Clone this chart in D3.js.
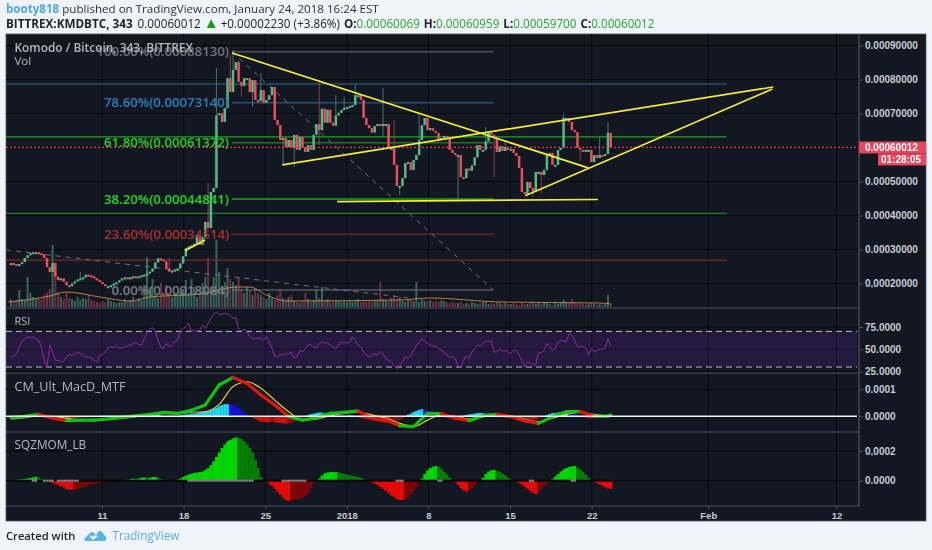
<!DOCTYPE html>
<html lang="en">
<head>
<meta charset="utf-8">
<title>KMDBTC 343</title>
<script src="https://cdnjs.cloudflare.com/ajax/libs/d3/7.8.5/d3.min.js"></script>
<style>
  html, body { margin: 0; padding: 0; background: #f0f3fa; }
  svg { display: block; filter: blur(0.3px); }
  text { font-family: "Open Sans", sans-serif; }
  .axis text { font-family: "Liberation Sans", sans-serif; font-size: 10px; font-weight: bold; fill: #c9ccd3; }
</style>
</head>
<body>
<svg id="chart" width="932" height="550"></svg>
<script>
// all prices in units of 0.00001 BTC, one row = 10 bars of 343 minutes
var closes = [
  26,25.7,25.4,25.7,26.3,27.5,28.3,28.9,29.2,29.2,
  28.9,28.6,27.5,24.8,23.4,26,22,21,21.5,20.5,
  19.5,19.2,20,20.6,21.2,21.5,21.8,22.6,22.4,22.1,
  21.5,21,20.4,19.8,19.2,19.2,19.5,20,20.3,20.9,
  21.5,21.8,21.5,21.8,22.1,21.8,22.1,22.4,22.6,22.9,
  23.5,24.4,26.2,27.4,27.1,26.5,24.4,23.5,23.8,24.1,
  24.4,25.9,28,30.4,30.9,31.2,31.7,34.3,31.4,33.7,
  38.1,36.3,46.9,48.1,69.5,70.1,67.5,71.6,80.4,76.3,
  82.8,85.1,79.3,78.1,80.4,80.4,76.3,79.8,74,73.7,
  76.9,73.1,74,75.4,77.8,68.1,66.6,62.2,62.8,60.1,
  62.2,59.9,63.7,59.3,63.1,60.1,58.7,60.7,59.3,63.7,
  66.9,65.1,71.4,67.3,71.1,67.3,66.4,69.4,70.2,71,
  71.6,71.9,72.2,72.5,75.4,75.4,74,68.7,66.6,65.7,
  64.4,66.3,66.9,66.3,66.9,66.9,59.9,59.9,54.9,48.7,
  48.7,51,55.4,55.7,53.4,56.3,57.8,62.2,66.6,68.7,
  65.1,65.7,64.9,64.3,62.2,62.8,63.4,62.8,59.3,58.4,
  57.8,57.8,51.3,51,53.8,53.2,54.7,57.1,60.7,59.3,
  59.3,61.8,64.3,63.7,63.1,58.7,60.4,59,60.1,59.3,
  59.6,58.4,57.5,54,46.9,46.3,49.9,48.1,46.9,52.8,
  52.8,51.9,53.4,57.8,58.4,54.9,54.9,59.3,59.9,68.7,
  68.7,67.5,65.1,64.5,59.9,59.3,58.7,59.3,59.3,55.7,
  57.8,56.9,57.8,57.5,58.1,64.3,60.012
];
// long wicks only: [bar, price]
var wickHighs = [[25,23.4],[49,27.8],[57,27.5],[71,49.6],[74,83.4],[79,87.2],[80,88.7],[82,85.7],[90,81.9],[111,79.9],[117,75.4],[120,74.9],[124,78.4],[134,77.5],[138,68.1],[147,69.6],[171,66],[178,62.2],[199,70.1],[212,63.1],[215,67.5]];
var wickLows = [[83,75],[87,72],[98,54.9],[102,54.3],[111,60.7],[134,63.1],[140,46],[161,44.6],[174,51.3],[188,45.4],[191,46.5],[205,56]];
var volumes = [
  8,6,7,17,8,7,30,14,10,9,
  9,8,12,14,18,62,35,15,10,8,
  14,9,8,6,10,7,9,8,12,7,
  6,5,4,6,5,8,6,5,4,5,
  5,8,6,7,10,6,9,7,22,49,
  20,28,12,9,24,14,22,12,10,14,
  12,15,18,27,14,28,20,10,16,24,
  30,49,20,30,67,35,18,25,39,28,
  25,22,30,18,14,20,16,12,18,14,
  12,10,8,14,9,7,12,18,9,8,
  10,12,6,5,4,6,14,8,5,7,
  18,9,20,7,8,6,5,7,6,5,
  6,5,7,5,6,8,5,6,5,7,
  5,6,7,25,8,7,6,9,12,8,
  10,6,5,8,7,6,25,5,8,6,
  6,7,5,6,5,7,6,5,4,5,
  4,4,5,3,4,3,5,4,3,4,
  5,6,3,4,3,5,4,3,4,3,
  3,4,3,2,4,3,3,4,5,3,
  4,3,5,4,3,2,4,3,4,7,
  5,4,8,5,3,4,3,2,3,4,
  3,2,3,2,3,12,3
];
var volMaBars = [-1,14,20,32,43,50,68,82,86,92,99,140,151,176,212,216];
var volMa = [5,11,15,10,6,10,13,20,20,12,6,7,9,5,4,3];
var rsi = [
  41.3,42.4,45,52.7,59,62,64,63,63.6,62,
  60.2,52.7,37.5,30,54.5,47,37.5,37.5,35.6,36.4,
  41.3,43.9,43.2,45,47,45,43.2,41.3,41.3,40.2,
  37.5,35.6,43.2,43.9,47,51.5,52.7,51.5,53.8,50.8,
  51.5,52.7,53.8,54.5,56.4,58.3,55.3,54.5,62,67.8,
  72.7,74.2,69.7,60.2,51.5,50.8,56.4,52.7,55.3,58.3,
  60.2,70.5,73.5,75.4,79.2,69.7,71.6,69.7,71.6,77.3,
  73.5,79.2,84.8,89.4,91.7,89.4,89.4,90.5,89.4,87.9,
  84.8,85.6,72.7,70.5,72.7,69.7,64,62,62,62.9,
  62,60.2,64,58.3,50.8,42.4,41.3,43.9,43.2,45,
  45,47,40.2,41.3,48.9,47,50.8,54.5,55.3,52.7,
  50.8,56.4,58.3,56.4,57.6,54.5,52.7,50.8,55.3,57.6,
  57.6,57.2,58.3,64,60.2,54.5,52.7,47,43.2,41.3,
  43.2,45,43.2,47.7,45,39.4,37.5,35.6,31.8,28,
  31.8,35.6,41.3,40.2,43.2,48.9,54.5,58.3,62,58.3,
  56.4,54.5,53.8,52.7,50.8,48.9,47,43.2,41.3,41.3,
  39.4,31.8,29.9,37.5,43.2,39.4,47,50.8,54.5,53.8,
  56.4,59.1,59.1,59.1,47,47,50,47.7,48.9,47,
  45,48.9,48.9,43.2,37.5,29.9,35.6,34.8,32.6,32.6,
  46.2,46.2,48.9,56.4,52.7,48.9,50.8,57.6,60.2,59.1,
  58.3,67.8,65.9,60.2,52.7,52.7,52.7,51.5,43.9,50.8,
  47,48.9,50,50,51.5,62,53.4
];
// macd panel in units of 0.0001, lines sampled every 5 bars
var macdBars = [0,5,10,15,20,25,30,35,40,45,50,55,60,65,70,75,80,85,90,95,100,105,110,115,120,125,130,135,140,145,150,155,160,165,170,175,180,185,190,195,200,205,210,215,216];
var macdLine = [-.05,0,.07,-.07,-.16,-.14,-.14,-.1,-.04,.02,.07,.15,.11,.22,.42,1.16,1.44,1.22,.79,.42,-.01,-.14,-.05,.11,.15,.2,-.07,-.14,-.35,-.38,.11,.09,-.07,-.16,.02,.07,-.01,-.17,-.26,-.01,.17,.17,.01,.01,.05];
var macdSignal = [-.1,-.05,.02,-.01,-.07,-.14,-.14,-.11,-.07,-.01,.05,.1,.09,.15,.17,.44,1.1,1.28,1.04,.6,.17,-.14,-.11,.02,.11,.15,.05,-.07,-.26,-.38,-.14,.05,-.01,-.1,-.01,.05,.01,-.1,-.2,-.07,.07,.15,.07,.01,.01];
var macdHist = [
  0,0,0,0,.01,.02,.03,.04,.05,.06,
  .05,.03,0,-.02,-.04,-.05,-.05,-.05,-.04,-.05,
  -.06,-.07,-.08,-.08,-.07,-.06,-.05,-.03,-.02,-.01,
  0,.01,.01,.02,.02,.02,.02,.02,.02,.02,
  .02,.02,.02,.03,.03,.03,.03,.02,.02,.02,
  .03,.05,.06,.06,.03,.01,-.01,-.02,-.02,-.01,
  0,.03,.05,.07,.08,.1,.1,.12,.14,.16,
  .18,.2,.25,.28,.32,.38,.42,.45,.45,.44,
  .42,.36,.3,.22,.14,.07,.02,-.04,-.1,-.16,
  -.2,-.2,-.22,-.22,-.2,-.22,-.24,-.25,-.26,-.27,
  -.26,-.24,-.2,-.16,-.1,-.06,-.02,.04,.08,.1,
  .12,.14,.14,.12,.12,.1,.1,.08,.06,.05,
  .04,.03,.03,.02,0,-.03,-.06,-.08,-.1,-.12,
  -.14,-.16,-.18,-.2,-.22,-.24,-.24,-.22,-.2,-.16,
  -.12,-.08,0,.06,.1,.16,.2,.24,.26,.25,
  .22,.18,.14,.1,.05,0,-.02,-.05,-.05,-.05,
  -.08,-.06,-.03,.02,.05,.07,.08,.1,.12,.12,
  .12,.1,.1,.08,.06,.04,0,-.03,-.05,-.05,
  -.05,-.03,-.02,-.03,-.05,-.07,-.08,-.1,-.12,-.12,
  -.1,-.06,-.02,.04,.08,.12,.12,.14,.14,.16,
  .16,.14,.12,.1,.06,.02,-.02,-.05,-.07,-.08,
  -.06,-.05,-.03,-.01,.01,.02,.03
];
var squeeze = [
  .02,.04,.06,.08,.1,.12,.15,.18,.22,.27,
  .2,.1,.05,-.02,-.08,-.15,-.22,-.3,-.38,-.45,
  -.57,-.6,-.62,-.6,-.55,-.5,-.42,-.38,-.32,-.25,
  -.2,-.18,-.12,-.08,-.05,-.03,-.02,-.01,0,0,
  .01,.03,.06,.1,.14,.12,.15,.2,.22,.18,
  .2,.24,.25,.2,.12,.06,.03,.01,.02,.03,
  .08,.14,.25,.35,.42,.47,.52,.55,.58,.62,
  .72,.85,1.05,1.3,1.6,1.9,2.2,2.45,2.65,2.75,
  2.85,2.92,2.9,2.8,2.65,2.45,2.2,1.9,1.4,.85,
  .25,.05,-.05,-.2,-.35,-.55,-.75,-.95,-1.15,-1.3,
  -1.37,-1.35,-1.3,-1.25,-1.2,-1.15,-1.05,-.85,-.5,-.15,
  .02,.15,.35,.5,.55,.58,.58,.58,.55,.5,
  .45,.42,.38,.33,.28,.25,.2,.1,.02,-.05,
  -.1,-.2,-.3,-.42,-.55,-.7,-.85,-1,-1.1,-1.25,
  -1.3,-1.3,-1.25,-1.15,-.95,-.7,-.4,-.1,.15,.45,
  .7,.85,.95,1,.95,.8,.6,.42,.2,.03,
  -.1,-.3,-.5,-.65,-.72,-.65,-.5,-.3,-.1,.02,
  .2,.45,.62,.7,.72,.68,.6,.48,.35,.2,
  .1,.02,-.05,-.15,-.28,-.42,-.55,-.7,-.82,-.9,
  -.75,-.55,-.35,-.18,-.02,.1,.28,.45,.62,.75,
  .85,.92,.98,.99,.9,.75,.58,.4,.2,.05,
  -.08,-.16,-.25,-.35,-.45,-.52,-.55
];
var squeezeOn = [[8,9],[12,15],[17,24],[64,87],[98,106],[139,141],[154,155],[187,188],[202,203]];

var priceTicks = [20,30,40,50,60,70,80,90];
var rsiTicks = [25,50,75];
var macdTicks = [0,1];
var sqzTicks = [0,2];
var dateTicks = [["11",new Date(Date.UTC(2017,11,11))],["18",new Date(Date.UTC(2017,11,18))],["25",new Date(Date.UTC(2017,11,25))],["2018",new Date(Date.UTC(2018,0,1))],["8",new Date(Date.UTC(2018,0,8))],["15",new Date(Date.UTC(2018,0,15))],["22",new Date(Date.UTC(2018,0,22))],["Feb",new Date(Date.UTC(2018,1,1))],["12",new Date(Date.UTC(2018,1,12))]];

var fibLabels = ["100.00%(0.00088130)","78.60%(0.00073140)","61.80%(0.00061372)","38.20%(0.00044841)","23.60%(0.00034514)","0.00%(0.00018084)"];
var fibPrices = [88.13,73.14,61.372,44.841,34.514,18.084];
var fibColors = ["#6b6e78","#2c6f9e","#1fa51f","#13a813","#8f2c2c","#73767f"];
var fibText = ["#6f727c","#2f7bb0","#25c925","#25d025","#a32e2e","#7a7d86"];
var fullPrices = [78.7,63.1,40.6,26.9];
var fullColors = ["#24506e","#22a022","#237a23","#7c2b2b"];
// [bar, price, bar, price]
var trendLines = [[79.6,87.8,207.9,54],[97.7,54.9,274.5,77.8],[185.2,45.8,274.2,77.2],[117.5,44.1,211.4,44.7],[62.7,29.6,69.9,32.8]];
var dashedLines = [[79.6,88.13,173.7,18.084],[-1.8,29.9,143.8,15.7]];
var fibRange = [79.6,173.7];
var fullRange = [-1.8,257.7];
var lastPrice = 60.012;

var L = 6, R = 926, axisX = 859, T = 34, B = 521;
var panels = { main: [T, 308], rsi: [308, 373], macd: [373, 432], sqz: [432, 506] };

var svg = d3.select("#chart");
var x = d3.scaleUtc().domain([new Date(Date.UTC(2017,11,11)), new Date(Date.UTC(2018,1,12))]).range([102,836.5]);
var firstBar = Date.UTC(2017,11,3,4,30);
function barX(i) { return x(new Date(firstBar + i * 343 * 60000)); }
var bw = barX(1) - barX(0);

var yPrice = d3.scaleLinear().domain([20,90]).range([283.5,45.5]);
var yVol = d3.scaleLinear().domain([0,70]).range([307,237]);
var yRsi = d3.scaleLinear().domain([25,75]).range([371.5,327]);
var yMacd = d3.scaleLinear().domain([0,1]).range([416.3,389.3]);
var ySqz = d3.scaleLinear().domain([0,2]).range([480.7,451]);

svg.append("rect").attr("x",L).attr("y",T).attr("width",R-L).attr("height",B-T).attr("fill","#131722").attr("stroke","#5a5d66").attr("stroke-width",0.8);

var defs = svg.append("defs");
function clip(id, top, bottom) {
  defs.append("clipPath").attr("id",id).append("rect").attr("x",L).attr("y",top).attr("width",axisX-L).attr("height",bottom-top);
}
clip("cMain",panels.main[0],panels.main[1]);
clip("cRsi",panels.rsi[0],panels.rsi[1]);
clip("cMacd",panels.macd[0],panels.macd[1]);
clip("cSqz",panels.sqz[0],panels.sqz[1]);

// grid
var grid = svg.append("g").attr("stroke","#07080c").attr("stroke-width",1);
dateTicks.forEach(function(d) {
  grid.append("line").attr("x1",x(d[1])).attr("x2",x(d[1])).attr("y1",T).attr("y2",506);
});
function hGrid(ticks, scale) {
  ticks.forEach(function(t) {
    grid.append("line").attr("x1",L).attr("x2",axisX).attr("y1",scale(t)).attr("y2",scale(t));
  });
}
hGrid(priceTicks,yPrice); hGrid(rsiTicks,yRsi); hGrid(macdTicks,yMacd); hGrid(sqzTicks,ySqz);

// main panel
var main = svg.append("g").attr("clip-path","url(#cMain)");
function isUp(i) { return i === 0 ? true : closes[i] >= closes[i-1]; }

main.selectAll(".vol").data(volumes).enter().append("rect")
  .attr("x",function(d,i){ return barX(i)-bw*0.36; })
  .attr("y",function(d){ return yVol(d); })
  .attr("width",bw*0.72)
  .attr("height",function(d){ return yVol(0)-yVol(d); })
  .attr("fill",function(d,i){ return isUp(i) ? "#35665a" : "#6e2f42"; });

main.append("path").attr("fill","none").attr("stroke","#c98a4a").attr("stroke-width",0.9)
  .attr("d",d3.line().x(function(d,i){ return barX(volMaBars[i]); }).y(function(d){ return yVol(d); }).curve(d3.curveMonotoneX)(volMa));

fullPrices.forEach(function(p,i) {
  main.append("line").attr("x1",barX(fullRange[0])).attr("x2",barX(fullRange[1])).attr("y1",yPrice(p)).attr("y2",yPrice(p))
    .attr("stroke",fullColors[i]).attr("stroke-width",i===0?1.5:1.2);
});
fibPrices.forEach(function(p,i) {
  main.append("line").attr("x1",barX(fibRange[0])).attr("x2",barX(fibRange[1])).attr("y1",yPrice(p)).attr("y2",yPrice(p))
    .attr("stroke",fibColors[i]).attr("stroke-width",i===3?1.6:1);
});
dashedLines.forEach(function(d) {
  main.append("line").attr("x1",barX(d[0])).attr("y1",yPrice(d[1])).attr("x2",barX(d[2])).attr("y2",yPrice(d[3]))
    .attr("stroke","#6d7079").attr("stroke-width",1).attr("stroke-dasharray","5 5");
});

// candles
var candles = main.selectAll(".c").data(closes).enter().append("g");
var highMap = new Map(wickHighs), lowMap = new Map(wickLows);
function openOf(i) { return i === 0 ? closes[0] : closes[i-1]; }
candles.append("line")
  .attr("x1",function(d,i){ return barX(i); }).attr("x2",function(d,i){ return barX(i); })
  .attr("y1",function(d,i){ return yPrice(highMap.has(i) ? highMap.get(i) : Math.max(d,openOf(i))); })
  .attr("y2",function(d,i){ return yPrice(lowMap.has(i) ? lowMap.get(i) : Math.min(d,openOf(i))); })
  .attr("stroke",function(d,i){ return isUp(i) ? "#4b8f78" : "#a8475a"; }).attr("stroke-width",0.8);
candles.append("rect")
  .attr("x",function(d,i){ return barX(i)-bw*0.45; })
  .attr("width",bw*0.9)
  .attr("y",function(d,i){ return yPrice(Math.max(d,openOf(i))); })
  .attr("height",function(d,i){ return Math.max(2,Math.abs(yPrice(d)-yPrice(openOf(i)))); })
  .attr("fill",function(d,i){ return isUp(i) ? "#53b987" : "#eb4d5c"; });

main.append("line").attr("x1",L).attr("x2",axisX).attr("y1",yPrice(lastPrice)).attr("y2",yPrice(lastPrice))
  .attr("stroke","#d0404f").attr("stroke-width",1.2).attr("stroke-dasharray","2 2");

fibLabels.forEach(function(t,i) {
  main.append("text").attr("x",barX(fibRange[0])-3).attr("y",yPrice(fibPrices[i])+4.5).attr("text-anchor","end")
    .attr("font-size",13.2).attr("font-weight",600).attr("fill",fibText[i]).text(t);
});
trendLines.forEach(function(d) {
  main.append("line").attr("x1",barX(d[0])).attr("y1",yPrice(d[1])).attr("x2",barX(d[2])).attr("y2",yPrice(d[3]))
    .attr("stroke","#f2ec3a").attr("stroke-width",1.7);
});

// rsi panel
var rsiG = svg.append("g").attr("clip-path","url(#cRsi)");
rsiG.append("rect").attr("x",L).attr("width",851).attr("y",yRsi(70)).attr("height",yRsi(30)-yRsi(70)).attr("fill","#7a22c8").attr("opacity",0.17);
[70,30].forEach(function(v) {
  rsiG.append("line").attr("x1",L).attr("x2",857).attr("y1",yRsi(v)).attr("y2",yRsi(v)).attr("stroke","#b9bcc4").attr("stroke-width",1).attr("stroke-dasharray","6 4");
});
rsiG.append("path").attr("fill","none").attr("stroke","#8a2c9e").attr("stroke-width",1)
  .attr("d",d3.line().x(function(d,i){ return barX(i); }).y(function(d){ return yRsi(d); })(rsi));

// macd panel
var macdG = svg.append("g").attr("clip-path","url(#cMacd)");
macdG.selectAll(".h").data(macdHist).enter().append("rect")
  .attr("x",function(d,i){ return barX(i)-bw/2; }).attr("width",bw+0.3)
  .attr("y",function(d){ return d>=0 ? yMacd(d) : yMacd(0); })
  .attr("height",function(d){ return Math.abs(yMacd(d)-yMacd(0)); })
  .attr("fill",function(d,i){
    var prev = i ? macdHist[i-1] : 0;
    if (d >= 0) return d >= prev ? "#1fd5f0" : "#1010d8";
    return d <= prev ? "#d01208" : "#8a0c08";
  });
var sigLine = d3.line().x(function(d,i){ return barX(macdBars[i]); }).y(function(d){ return yMacd(d); }).curve(d3.curveMonotoneX);
macdG.append("path").attr("fill","none").attr("stroke","#e0c93a").attr("stroke-width",1.2).attr("d",sigLine(macdSignal));
macdLine.forEach(function(v,i) {
  if (i === 0) return;
  macdG.append("line").attr("x1",barX(macdBars[i-1])).attr("x2",barX(macdBars[i]))
    .attr("y1",yMacd(macdLine[i-1])).attr("y2",yMacd(v))
    .attr("stroke",v >= macdSignal[i] ? "#0fc40f" : "#e0160c").attr("stroke-width",3.2).attr("stroke-linecap","round");
});
macdG.append("line").attr("x1",L).attr("x2",857).attr("y1",yMacd(0)).attr("y2",yMacd(0)).attr("stroke","#f4f4f4").attr("stroke-width",1.6);

// squeeze panel
var sqzG = svg.append("g").attr("clip-path","url(#cSqz)");
sqzG.selectAll(".s").data(squeeze).enter().append("rect")
  .attr("x",function(d,i){ return barX(i)-bw/2; }).attr("width",bw+0.3)
  .attr("y",function(d){ return d>=0 ? ySqz(d) : ySqz(0); })
  .attr("height",function(d){ return Math.abs(ySqz(d)-ySqz(0)); })
  .attr("fill",function(d,i){
    var prev = i ? squeeze[i-1] : 0;
    if (d >= 0) return d >= prev ? "#00d800" : "#067d06";
    return d <= prev ? "#e80a0a" : "#7c0606";
  });
squeeze.forEach(function(d,i) {
  var on = squeezeOn.some(function(r){ return i >= r[0] && i <= r[1]; });
  sqzG.append("rect").attr("x",barX(i)-bw/2).attr("width",bw).attr("y",ySqz(0)-1).attr("height",2)
    .attr("fill",on ? "#7d7d7d" : "#050505");
});

// panel separators and axes
[308,373,432,506].forEach(function(y) {
  svg.append("line").attr("x1",L).attr("x2",axisX).attr("y1",y).attr("y2",y).attr("stroke","#50535c").attr("stroke-width",1.2);
});
svg.append("line").attr("x1",axisX).attr("x2",axisX).attr("y1",T).attr("y2",506).attr("stroke","#50535c").attr("stroke-width",1.2);

function yAxis(scale, ticks, fmt) {
  var g = svg.append("g").attr("class","axis").attr("transform","translate("+axisX+",0)")
    .call(d3.axisRight(scale).tickValues(ticks).tickFormat(fmt).tickSize(4).tickPadding(2));
  g.select(".domain").remove();
  g.selectAll("line").attr("stroke","#50535c");
}
yAxis(yPrice,priceTicks,function(v){ return (v/100000).toFixed(8); });
yAxis(yRsi,rsiTicks,function(v){ return v.toFixed(4); });
yAxis(yMacd,macdTicks,function(v){ return (v/10000).toFixed(4); });
yAxis(ySqz,sqzTicks,function(v){ return (v/10000).toFixed(4); });

var xAx = svg.append("g").attr("class","axis").attr("transform","translate(0,506)")
  .call(d3.axisBottom(x).tickValues(dateTicks.map(function(d){ return d[1]; }))
    .tickFormat(function(d,i){ return dateTicks[i][0]; }).tickSize(3).tickPadding(3));
xAx.select(".domain").remove();
xAx.selectAll("line").attr("stroke","#50535c");
xAx.selectAll("text").attr("fill","#c9ccd3").style("font-size","9.5px");

// last price tags
svg.append("rect").attr("x",axisX).attr("y",yPrice(lastPrice)-6).attr("width",R-axisX).attr("height",12).attr("fill","#e8475e");
svg.append("rect").attr("x",878).attr("y",yPrice(lastPrice)+6).attr("width",R-878).attr("height",12).attr("fill","#e8475e");
svg.append("text").attr("x",865).attr("y",yPrice(lastPrice)+3.6).attr("fill","#fff").style("font-family","Liberation Sans").attr("font-size",10).attr("font-weight","bold").text((lastPrice/100000).toFixed(8));
svg.append("text").attr("x",881).attr("y",yPrice(lastPrice)+15.6).attr("fill","#fff").style("font-family","Liberation Sans").attr("font-size",10).attr("font-weight","bold").text("01:28:05");

// panel titles
function title(t, y, size, w) {
  svg.append("text").attr("x",14.5).attr("y",y).attr("fill","#b4b7be").attr("font-size",size).attr("font-weight",w||400).text(t);
}
title("Komodo / Bitcoin, 343, BITTREX",52,11.9,600);
title("Vol",65,11.5);
title("RSI",325,11);
title("CM_Ult_MacD_MTF",391,12.6);
title("SQZMOM_LB",449,11.8);

// header
var h1 = svg.append("text").attr("x",6).attr("y",13).attr("font-size",11.6).attr("fill","#2e3038");
h1.append("tspan").attr("fill","#4fa9dd").attr("font-weight",700).text("booty818");
h1.append("tspan").text(" published on TradingView.com, January 24, 2018 16:24 EST");
var h2 = svg.append("text").attr("x",6).attr("y",28).attr("font-size",11.7).attr("fill","#22242b");
h2.append("tspan").attr("font-weight",700).text("BITTREX:KMDBTC, 343");
h2.append("tspan").attr("dx",5).text("0.00060012");
h2.append("tspan").attr("dx",3).attr("fill","#12a012").attr("font-size",15).text("▲");
h2.append("tspan").attr("dx",2).text("+0.00002230 (+3.86%)");
[["O:","0.00060069"],["H:","0.00060959"],["L:","0.00059700"],["C:","0.00060012"]].forEach(function(d) {
  h2.append("tspan").attr("dx",4).attr("font-weight",700).text(d[0]);
  h2.append("tspan").attr("fill","#2aa82a").text(d[1]);
});

// footer
svg.append("text").attr("x",6).attr("y",540).attr("font-size",11.2).attr("font-weight",600).attr("fill","#22242b").text("Created with");
svg.append("path").attr("transform","translate(84,530)").attr("fill","#58b4e4")
  .attr("d","M0 9 L6 3 Q8 1 10 3 L12 5 L15 1 Q16 0 18 2 L22 7 Q23 11 20 11 L3 11 Q0 11 0 9 Z M6 7 L9 10 L14 6 L11 5 L9 7 L7 5 Z");
svg.append("text").attr("x",112.5).attr("y",540).attr("font-size",11.7).attr("fill","#58aee0").text("TradingView");
</script>
</body>
</html>
